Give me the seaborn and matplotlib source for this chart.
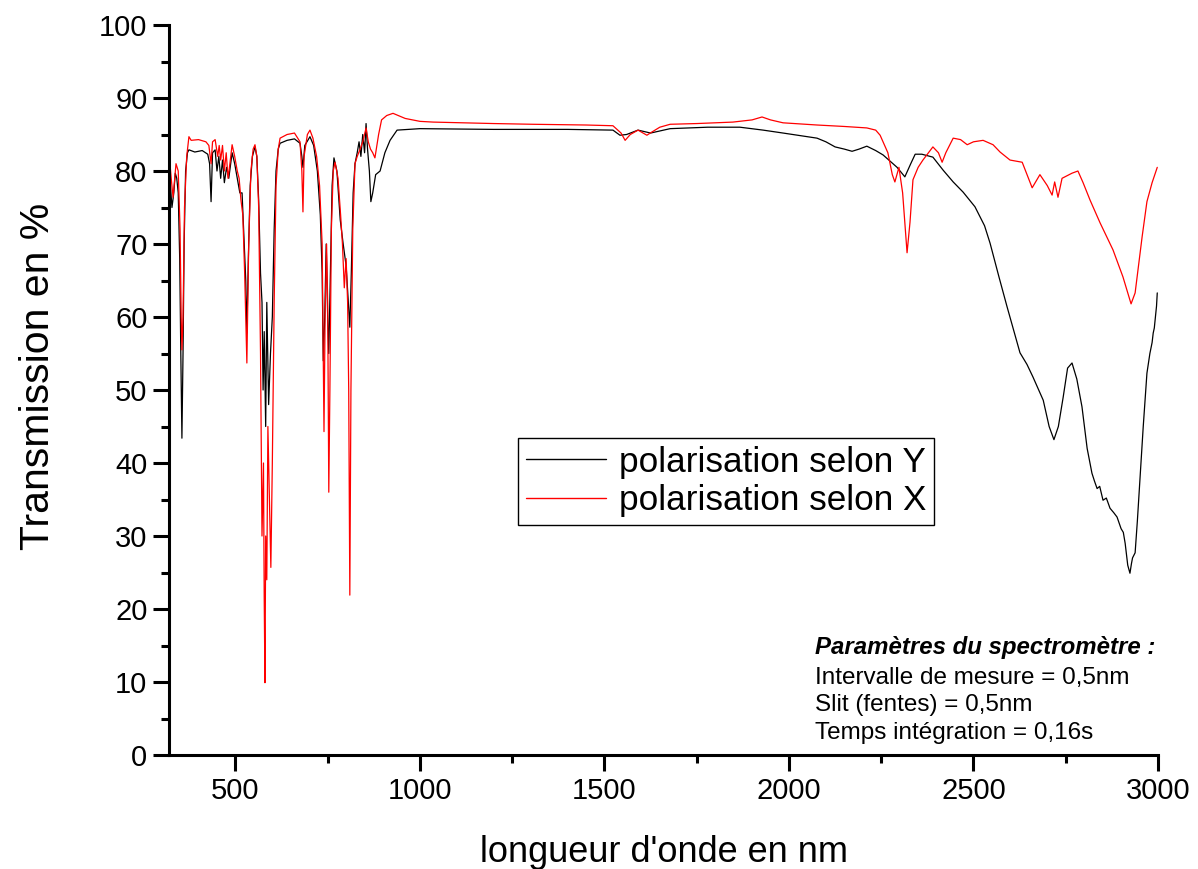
import matplotlib
matplotlib.use("Agg")
import matplotlib.pyplot as plt
from matplotlib.ticker import MultipleLocator
import seaborn as sns
import pandas as pd

# polarisation selon Y (black)
wl_y = [320, 324, 328, 333, 337, 341, 345, 349, 352, 355, 358, 361, 365, 370, 374,
        390, 410, 425, 430, 434, 438, 445, 450, 455, 460, 465, 470, 476, 482, 491,
        498, 505, 512, 518, 524, 528, 531, 535, 540, 546, 553, 558, 563, 568, 572,
        575, 578, 582, 585, 590, 595, 600, 605, 610, 616, 621, 640, 660, 675, 680,
        683, 688, 702, 712, 722, 730, 735, 738, 742, 746, 750, 753, 757, 762, 767,
        775, 784, 792, 800, 806, 810, 814, 819, 824, 830, 835, 840, 845, 850, 854,
        858, 863, 867, 872, 880, 892, 905, 919, 938, 1000, 1200, 1400, 1523, 1542,
        1560, 1591, 1625, 1678, 1780, 1867, 1930, 1984, 2076, 2100, 2125, 2150, 2171,
        2190, 2211, 2235, 2255, 2293, 2314, 2330, 2342, 2360, 2390, 2418, 2445, 2472,
        2504, 2530, 2545, 2569, 2591, 2610, 2626, 2645, 2661, 2689, 2705, 2718, 2730,
        2743, 2755, 2767, 2780, 2794, 2808, 2821, 2828, 2835, 2842, 2851, 2860, 2870,
        2880, 2889, 2900, 2906, 2911, 2918, 2924, 2928, 2931, 2938, 2944, 2951, 2960,
        2970, 2975, 2978, 2984, 2987, 2990, 2993, 2996, 2998]
trans_y = [82.5, 78, 75, 77, 79.7, 79, 77, 68, 55, 43.4, 55, 70, 80, 82.5, 82.9,
           82.6, 82.8, 82.3, 81, 75.8, 82.5, 82.9, 80, 82, 79, 81.5, 78.4, 80.5, 79, 82.5,
           81, 79, 77, 77, 70, 65, 57.8, 68, 78, 82, 83.3, 82, 76, 66, 62,
           50, 58, 45, 62, 48, 55, 60, 72, 80, 83, 83.8, 84.2, 84.4, 83.8, 82,
           80.5, 83.5, 84.7, 83.5, 80, 74, 66, 54, 60, 70, 60, 55, 65, 78, 81.8,
           80, 73.3, 70, 67, 62, 58.6, 66, 77, 81, 82.5, 84, 82, 85, 82.5, 86.5,
           83, 80, 75.8, 77, 79.5, 80, 82.5, 84.2, 85.6, 85.8, 85.7, 85.7, 85.6, 84.9,
           85, 85.6, 85.2, 85.8, 86, 86, 85.6, 85.2, 84.5, 84, 83.3, 83, 82.7,
           83, 83.4, 82.8, 82.2, 80.5, 79.2, 81, 82.3, 82.3, 81.9, 80.1, 78.5, 77.1,
           75.1, 72.5, 70.1, 65.5, 61.4, 58, 55.1, 53.5, 51.8, 48.6, 45, 43.2, 45,
           49, 53, 53.7, 51.5, 47.7, 42, 38.6, 37.5, 36.5, 36.8, 34.9, 35.2, 33.8,
           33.2, 32.6, 31, 30.5, 29, 26, 24.9, 26.2, 27, 27.7, 32, 37.7, 45,
           52.3, 54, 55, 56.5, 57.8, 58.5, 60, 61.5, 63.3]

# polarisation selon X (red)
wl_x = [320, 326, 331, 339, 345, 350, 353, 355, 358, 362, 368, 374, 380, 400, 420,
        428, 434, 438, 445, 452, 456, 460, 465, 470, 475, 480, 485, 491, 498, 505,
        510, 515, 520, 525, 531, 536, 542, 548, 553, 558, 563, 568, 572, 576, 578,
        580, 582, 585, 588, 592, 596, 600, 605, 610, 616, 621, 640, 660, 675, 680,
        683, 686, 695, 702, 710, 720, 728, 735, 738, 740, 743, 747, 750, 753, 756,
        760, 765, 770, 778, 785, 790, 795, 800, 804, 807, 810, 813, 818, 824, 830,
        838, 845, 854, 860, 866, 872, 878, 888, 896, 910, 927, 960, 1000, 1036, 1200,
        1306, 1450, 1523, 1545, 1556, 1570, 1591, 1615, 1624, 1650, 1678, 1750, 1848,
        1900, 1927, 1950, 1984, 2076, 2150, 2211, 2235, 2247, 2268, 2280, 2287, 2298,
        2308, 2320, 2328, 2336, 2350, 2363, 2390, 2405, 2415, 2425, 2445, 2465, 2483,
        2500, 2526, 2553, 2572, 2599, 2632, 2659, 2680, 2700, 2713, 2720, 2729, 2740,
        2767, 2783, 2797, 2816, 2843, 2878, 2905, 2927, 2938, 2957, 2970, 2984, 2998]
trans_x = [82.5, 79, 76.4, 81, 80, 72, 60, 55.5, 60, 75, 82, 84.7, 84.2, 84.3, 84,
           83.5, 81, 84, 84.3, 82, 83.5, 81.5, 83.5, 80, 82.5, 79, 81, 83.6, 82, 80,
           79, 76, 74, 66, 53.7, 70, 80, 83, 83.6, 82, 75, 55, 30, 40, 21.6,
           9.9, 30, 24, 45, 35, 25.7, 40, 62, 78, 83, 84.5, 85, 85.2, 84, 80,
           74.4, 82, 85, 85.6, 84.5, 82, 78, 70, 55, 44.3, 60, 70, 62, 36, 50,
           72, 80, 81.2, 79, 74, 70, 64, 68, 62, 50, 21.9, 50, 72, 81, 82,
           83, 84, 85.9, 84, 83, 82.5, 81.8, 85, 87, 87.6, 87.9, 87.2, 86.8, 86.7, 86.5,
           86.4, 86.3, 86.2, 85.2, 84.2, 85, 85.6, 84.9, 85.2, 86, 86.4, 86.5, 86.7,
           87, 87.4, 87, 86.6, 86.3, 86.1, 85.9, 85.6, 84.9, 82.5, 79.5, 78.5, 80.5,
           77, 68.8, 73, 78.8, 80.5, 81.5, 83.3, 82.5, 81.2, 82.5, 84.5, 84.3, 83.6,
           84, 84.2, 83.6, 82.6, 81.5, 81.2, 77.7, 79.5, 78, 76.7, 78.5, 76.4, 79,
           79.7, 80, 78.4, 76, 72.9, 69.2, 65.5, 61.8, 63.3, 71, 75.8, 78.4, 80.5]

label_y = "polarisation selon Y"
label_x = "polarisation selon X"

df = pd.concat([
    pd.DataFrame({"wl": wl_y, "T": trans_y, "pol": label_y}),
    pd.DataFrame({"wl": wl_x, "T": trans_x, "pol": label_x}),
])

sns.set_style("ticks")
plt.rcParams["font.family"] = ["Liberation Sans", "DejaVu Sans"]
plt.rcParams["text.color"] = "black"
plt.rcParams["axes.labelcolor"] = "black"
plt.rcParams["xtick.color"] = "black"
plt.rcParams["ytick.color"] = "black"

fig = plt.figure(figsize=(11.98, 8.69), dpi=100)
ax = fig.add_axes([169 / 1198, 1 - 755 / 869, 989 / 1198, 730 / 869])

sns.lineplot(
    data=df, x="wl", y="T", hue="pol", hue_order=[label_y, label_x],
    palette={label_y: "black", label_x: "#ff0000"},
    estimator=None, sort=False, linewidth=0.9, ax=ax,
)

ax.set_xlim(320, 3000)
ax.set_ylim(0, 100)
ax.xaxis.set_major_locator(MultipleLocator(500))
ax.xaxis.set_minor_locator(MultipleLocator(250))
ax.yaxis.set_major_locator(MultipleLocator(10))
ax.yaxis.set_minor_locator(MultipleLocator(5))
ax.tick_params(which="major", length=11.5, width=2.2, labelsize=21, pad=4,
               color="black", labelcolor="black")
ax.tick_params(which="minor", length=6, width=2.2, color="black")
for side in ["top", "right"]:
    ax.spines[side].set_visible(False)
for side in ["left", "bottom"]:
    ax.spines[side].set_linewidth(2.2)
    ax.spines[side].set_color("black")

ax.set_xlabel("longueur d'onde en nm", fontsize=26, labelpad=22, color="black")
ax.set_ylabel("Transmission en %", fontsize=29.5, labelpad=30, color="black")
ax.yaxis.label.set_y(0.518)

handles, labels = ax.get_legend_handles_labels()
leg = ax.legend(
    handles, labels, loc="center", bbox_to_anchor=(0.563, 0.375),
    fontsize=25.3, handlelength=2.3, handletextpad=0.35, labelspacing=0.15,
    borderpad=0.22, fancybox=False, framealpha=1, edgecolor="black",
)
leg.get_frame().set_linewidth(1.0)
for line in leg.get_lines():
    line.set_linewidth(1.0)
for t in leg.get_texts():
    t.set_color("black")

ax.text(0.653, 0.147, "Paramètres du spectromètre :", transform=ax.transAxes,
        fontsize=17.3, fontweight="bold", style="italic", va="center")
notes = ["Intervalle de mesure = 0,5nm", "Slit (fentes) = 0,5nm", "Temps intégration = 0,16s"]
for i, note in enumerate(notes):
    ax.text(0.653, 0.106 - i * 0.038, note, transform=ax.transAxes, fontsize=17.5, va="center")

fig.savefig("out.png", dpi=100)
